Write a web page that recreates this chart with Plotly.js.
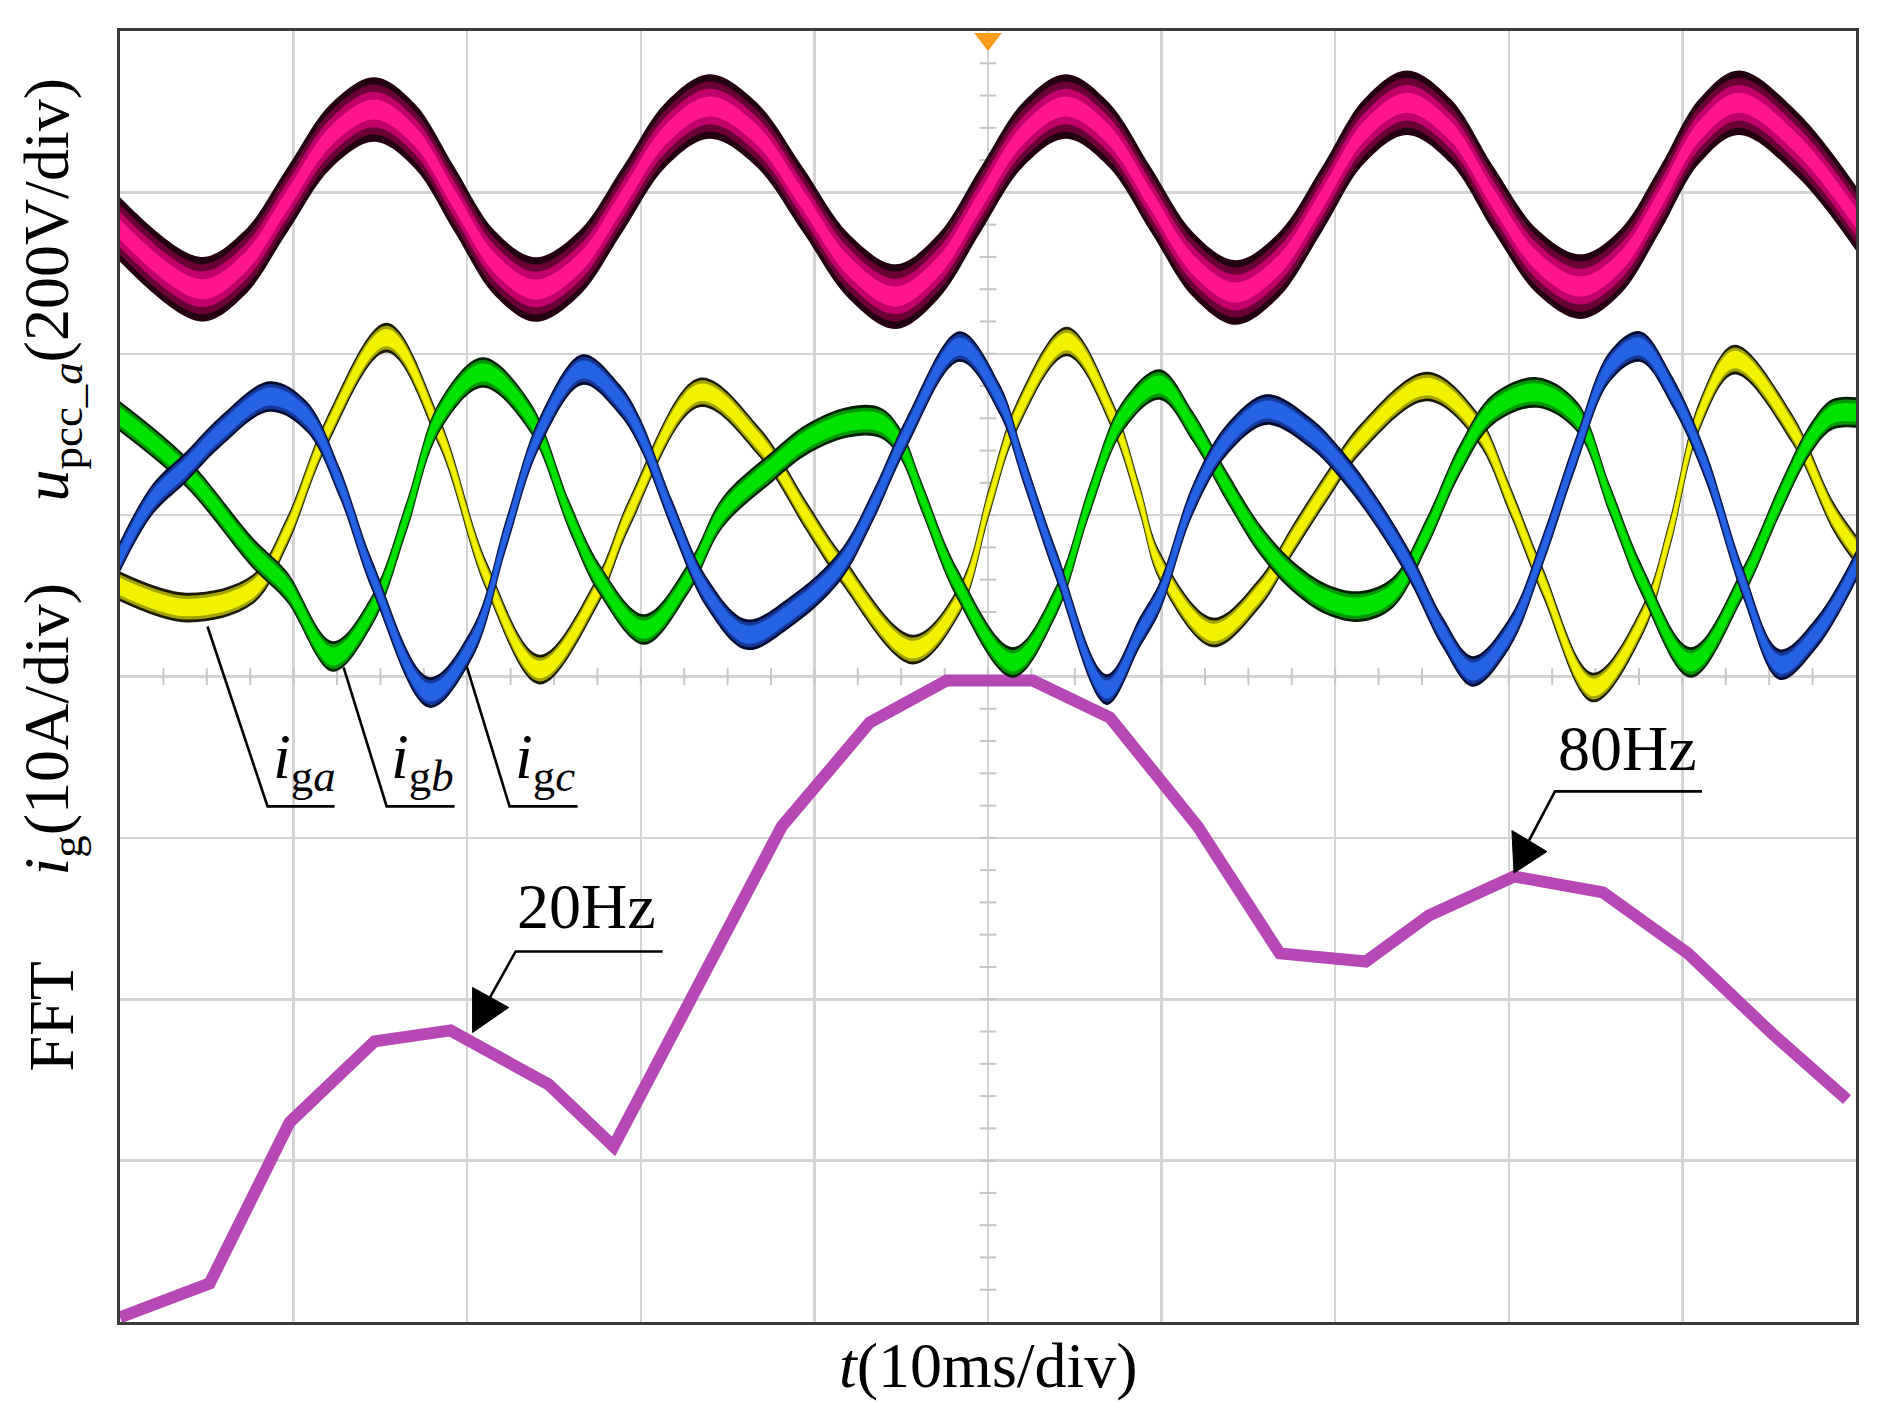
<!DOCTYPE html>
<html>
<head>
<meta charset="utf-8">
<script src="https://cdn.plot.ly/plotly-3.0.1.min.js"></script>
<style>
html, body { margin: 0; padding: 0; background: #ffffff; }
#chart { width: 1879px; height: 1423px; }
</style>
</head>
<body>
<div id="chart"></div>
<script>
// ---- Data (oscilloscope divisions: x 0..10 div = 10 ms/div, y -4..4 div) ----
// u_pcc_a (200 V/div) centre-line of the trace
const pinkX = [0, 0.464, 0.715, 0.965, 1.216, 1.466, 1.697, 1.927, 2.16, 2.394, 2.645, 2.895, 3.146, 3.397, 3.665, 3.933, 4.2, 4.468, 4.713, 4.958, 5.203, 5.448, 5.693, 5.938, 6.183, 6.427, 6.675, 6.923, 7.168, 7.413, 7.664, 7.914, 8.165, 8.415, 8.643, 8.87, 9.098, 9.326, 9.66, 10];
const pinkY = [2.77, 2.40, 2.56, 2.955, 3.35, 3.513, 3.35, 2.955, 2.56, 2.398, 2.56, 2.955, 3.36, 3.532, 3.36, 2.955, 2.54, 2.354, 2.54, 2.955, 3.36, 3.532, 3.36, 2.955, 2.55, 2.379, 2.55, 2.955, 3.38, 3.556, 3.38, 2.955, 2.57, 2.416, 2.57, 2.955, 3.38, 3.556, 3.30, 2.84];

// i_ga (yellow), 10 A/div
const igaX = [0, 0.383, 0.763, 0.96, 1.19, 1.536, 1.841, 2.112, 2.417, 2.746, 2.936, 3.339, 3.685, 3.956, 4.146, 4.567, 4.837, 5.01, 5.166, 5.454, 5.719, 5.874, 5.99, 6.295, 6.566, 6.756, 6.952, 7.142, 7.528, 7.816, 8.006, 8.197, 8.485, 8.773, 8.929, 9.10, 9.30, 9.63, 9.87, 10];
const igaY = [0.558, 0.427, 0.539, 0.892, 1.512, 2.100, 1.512, 0.620, 0.043, 0.520, 1.016, 1.760, 1.450, 0.991, 0.682, 0.167, 0.477, 1.097, 1.611, 2.076, 1.611, 1.097, 0.682, 0.273, 0.520, 0.849, 1.177, 1.468, 1.797, 1.549, 1.097, 0.582, -0.068, 0.353, 0.892, 1.620, 1.964, 1.540, 0.991, 0.787];

// i_gb (green)
const igbX = [0, 0.383, 0.763, 0.96, 1.225, 1.455, 1.651, 1.841, 2.089, 2.36, 2.59, 2.763, 3.02, 3.281, 3.471, 3.759, 3.955, 4.186, 4.376, 4.491, 4.624, 4.82, 5.143, 5.396, 5.586, 5.776, 5.99, 6.18, 6.376, 6.566, 6.756, 6.952, 7.142, 7.332, 7.528, 7.718, 7.908, 8.162, 8.392, 8.582, 8.773, 9.049, 9.349, 9.562, 9.735, 9.862, 10];
const igbY = [1.611, 1.264, 0.768, 0.558, 0.124, 0.415, 0.991, 1.611, 1.884, 1.611, 0.991, 0.601, 0.291, 0.620, 1.016, 1.301, 1.468, 1.574, 1.574, 1.450, 1.097, 0.582, 0.087, 0.477, 1.097, 1.611, 1.809, 1.549, 1.177, 0.849, 0.620, 0.477, 0.434, 0.520, 0.892, 1.344, 1.654, 1.760, 1.611, 1.097, 0.582, 0.087, 0.582, 1.097, 1.468, 1.623, 1.636];

// i_gc (blue)
const igcX = [0, 0.187, 0.383, 0.573, 0.862, 1.075, 1.265, 1.455, 1.783, 2.031, 2.227, 2.417, 2.665, 2.878, 2.994, 3.184, 3.38, 3.61, 3.858, 4.146, 4.336, 4.532, 4.837, 5.068, 5.2, 5.396, 5.684, 5.874, 5.99, 6.18, 6.376, 6.606, 6.854, 7.044, 7.24, 7.43, 7.62, 7.793, 8.006, 8.197, 8.392, 8.582, 8.755, 8.945, 9.135, 9.349, 9.562, 9.775, 10];
const igcY = [0.743, 1.097, 1.301, 1.512, 1.735, 1.611, 1.202, 0.620, -0.099, 0.211, 0.892, 1.512, 1.902, 1.716, 1.512, 0.991, 0.520, 0.260, 0.397, 0.682, 1.053, 1.512, 2.045, 1.716, 1.301, 0.682, -0.081, 0.273, 0.496, 1.097, 1.468, 1.654, 1.512, 1.301, 1.016, 0.682, 0.273, 0.031, 0.273, 0.787, 1.406, 1.921, 2.045, 1.760, 1.301, 0.582, 0.074, 0.273, 0.682];

// FFT spectrum trace
const fftX = [0, 0.516, 0.977, 1.466, 1.904, 2.469, 2.843, 3.812, 4.319, 4.762, 5.258, 5.702, 6.208, 6.681, 7.176, 7.54, 8.03, 8.542, 9.032, 9.522, 9.948];
const fftY = [-3.971, -3.761, -2.763, -2.261, -2.193, -2.528, -2.912, -0.929, -0.285, -0.025, -0.025, -0.254, -0.929, -1.716, -1.766, -1.481, -1.239, -1.338, -1.716, -2.218, -2.621];

// Trigger position marker (centre of screen)
const triggerX = [5];

// ---- Text helpers (explicit sizes on every styled run) ----
const FONT = 'Liberation Serif, "Times New Roman", serif';
const FS = 64, FS_SUB = 44.8;
const it = s => '<span style="font-style:italic;font-size:' + FS + 'px">' + s + '</span>';
const itSub = s => '<span style="font-style:italic;font-size:' + FS_SUB + 'px">' + s + '</span>';

// Annotation text
const peakLabels = ['20Hz', '80Hz'];
const phaseLabels = [it('i') + '<sub>g' + itSub('a') + '</sub>', it('i') + '<sub>g' + itSub('b') + '</sub>', it('i') + '<sub>g' + itSub('c') + '</sub>'];
const axisLabels = [it('u') + '<sub>pcc_' + itSub('a') + '</sub>(200V/div)', it('i') + '<sub>g</sub>(10A/div)', 'FFT', it('t') + '(10ms/div)'];

// ---- Drawing ----
// A trace drawn as a band of constant vertical thickness (oscilloscope persistence look)
function band(x, y, h, color, sm) {
  const base = { mode: 'lines', hoverinfo: 'skip', showlegend: false };
  return [
    Object.assign({}, base, { x: x, y: y.map(v => v - h), line: { shape: 'spline', smoothing: sm, width: 0, color: color } }),
    Object.assign({}, base, { x: x, y: y.map(v => v + h), line: { shape: 'spline', smoothing: sm, width: 0, color: color },
      fill: 'tonexty', fillcolor: color })
  ];
}
function layered(x, y, layers, sm) {
  let out = [];
  layers.forEach(l => { out = out.concat(band(x, y, l[0], l[1], sm)); });
  return out;
}

// graticule minor ticks on the centre axes
const vTickY = [], hTickX = [];
for (let k = 1; k < 40; k++) vTickY.push(-4 + k * 0.2);
for (let k = 1; k < 40; k++) hTickX.push(k * 0.25);

const traces = [];
traces.push({ x: vTickY.map(() => 5), y: vTickY, mode: 'markers', hoverinfo: 'skip', showlegend: false,
  marker: { symbol: 'line-ew', size: 12, line: { width: 2, color: '#c6c6c6' } } });
traces.push({ x: hTickX, y: hTickX.map(() => 0), mode: 'markers', hoverinfo: 'skip', showlegend: false,
  marker: { symbol: 'line-ns', size: 12, line: { width: 2, color: '#c6c6c6' } } });

// voltage
traces.push(...layered(pinkX, pinkY, [[0.2, '#220010'], [0.155, '#6a0036'], [0.11, '#c2006a'], [0.062, '#ff168f']], 1));
// FFT
traces.push({ x: fftX, y: fftY, mode: 'lines', hoverinfo: 'skip', showlegend: false,
  line: { color: '#b548b4', width: 12, shape: 'linear' } });
// currents
traces.push(...layered(igaX, igaY, [[0.092, '#1a1a00'], [0.074, '#a3a300'], [0.054, '#f2f200']], 1));
traces.push(...layered(igbX, igbY, [[0.095, '#002000'], [0.077, '#009800'], [0.056, '#00e300']], 1));
traces.push(...layered(igcX, igcY, [[0.095, '#000a30'], [0.077, '#14399a'], [0.056, '#2562e4']], 1));
// trigger marker
traces.push({ x: triggerX, y: [3.95], mode: 'markers', hoverinfo: 'skip', showlegend: false, cliponaxis: false,
  marker: { symbol: 'triangle-down', size: 24, color: '#ff9c1a' } });

const txt = { family: FONT, size: FS, color: '#000000' };

const annotations = [
  // axis labels
  { xref: 'paper', yref: 'paper', x: -0.0395, y: 0.7994, textangle: -90, showarrow: false,
    text: axisLabels[0], font: txt, xanchor: 'center', yanchor: 'middle' },
  { xref: 'paper', yref: 'paper', x: -0.0395, y: 0.4593, textangle: -90, showarrow: false,
    text: axisLabels[1], font: txt, xanchor: 'center', yanchor: 'middle' },
  { xref: 'paper', yref: 'paper', x: -0.0395, y: 0.2370, textangle: -90, showarrow: false,
    text: axisLabels[2], font: txt, xanchor: 'center', yanchor: 'middle' },
  { xref: 'paper', yref: 'paper', x: 0.5, y: -0.034, showarrow: false,
    text: axisLabels[3], font: txt, xanchor: 'center', yanchor: 'middle' },
  // phase labels
  { xref: 'x', yref: 'y', x: 1.063, y: -0.785, showarrow: false, text: phaseLabels[0], font: txt, xanchor: 'center', yanchor: 'bottom' },
  { xref: 'x', yref: 'y', x: 1.743, y: -0.785, showarrow: false, text: phaseLabels[1], font: txt, xanchor: 'center', yanchor: 'bottom' },
  { xref: 'x', yref: 'y', x: 2.446, y: -0.785, showarrow: false, text: phaseLabels[2], font: txt, xanchor: 'center', yanchor: 'bottom' },
  // peak labels
  { xref: 'x', yref: 'y', x: 2.688, y: -1.425, showarrow: false, text: peakLabels[0], font: txt, xanchor: 'center', yanchor: 'middle' },
  { xref: 'x', yref: 'y', x: 8.681, y: -0.446, showarrow: false, text: peakLabels[1], font: txt, xanchor: 'center', yanchor: 'middle' }
];

const lineStyle = { color: '#000000', width: 2.6 };
const headStyle = { color: '#000000', width: 1 };
const shapes = [
  // leader lines of the phase labels
  { type: 'path', xref: 'x', yref: 'y', path: 'M 0.504 0.310 L 0.850 -0.805 L 1.236 -0.805', line: lineStyle },
  { type: 'path', xref: 'x', yref: 'y', path: 'M 1.288 0.056 L 1.536 -0.805 L 1.927 -0.805', line: lineStyle },
  { type: 'path', xref: 'x', yref: 'y', path: 'M 1.996 0.068 L 2.244 -0.805 L 2.636 -0.805', line: lineStyle },
  // 20Hz callout: underline + arrow shaft + head
  { type: 'path', xref: 'x', yref: 'y', path: 'M 3.126 -1.704 L 2.279 -1.704 L 2.120 -2.010', line: lineStyle },
  { type: 'path', xref: 'x', yref: 'y', path: 'M 2.031 -2.206 L 2.031 -1.927 L 2.239 -2.051 Z',
    fillcolor: '#000000', line: headStyle },
  // 80Hz callout
  { type: 'path', xref: 'x', yref: 'y', path: 'M 9.113 -0.712 L 8.266 -0.712 L 8.110 -1.030', line: lineStyle },
  { type: 'path', xref: 'x', yref: 'y', path: 'M 8.030 -1.218 L 8.018 -0.954 L 8.220 -1.085 Z',
    fillcolor: '#000000', line: headStyle }
];

const axisCommon = {
  dtick: 1, tick0: 0, showgrid: true, gridcolor: '#d4d4d4', gridwidth: 2.5,
  showticklabels: false, ticks: '', zeroline: false,
  showline: true, mirror: true, linecolor: '#3a3a3a', linewidth: 3, fixedrange: true
};

const layout = {
  width: 1879, height: 1423,
  margin: { l: 120, r: 23, t: 31, b: 101, pad: 0 },
  paper_bgcolor: '#ffffff', plot_bgcolor: '#ffffff',
  showlegend: false,
  font: { family: FONT },
  xaxis: Object.assign({ range: [0, 10] }, axisCommon),
  yaxis: Object.assign({ range: [-4, 4] }, axisCommon),
  annotations: annotations,
  shapes: shapes
};

Plotly.newPlot('chart', traces, layout, { staticPlot: true, displayModeBar: false });
</script>
</body>
</html>
